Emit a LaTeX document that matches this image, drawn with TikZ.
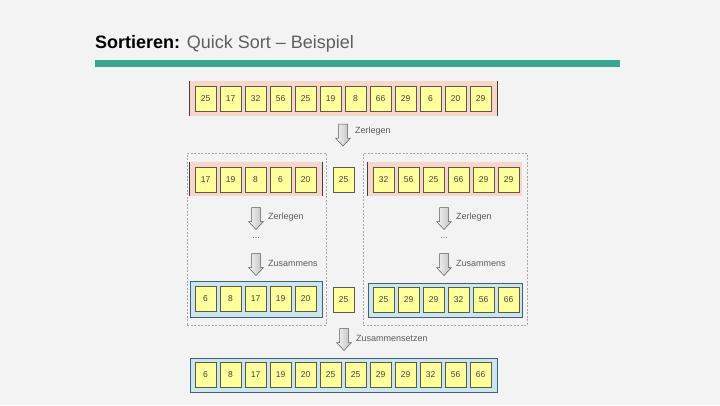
\documentclass[tikz,border=0pt]{standalone}
\usepackage{fontspec}
\setmainfont{Liberation Sans}
\definecolor{bg}{RGB}{243,243,243}
\definecolor{bar}{RGB}{58,166,143}
\definecolor{titlegray}{RGB}{95,95,95}
\definecolor{labgray}{RGB}{90,90,90}
\definecolor{pinkfill}{RGB}{249,214,204}
\definecolor{bluefill}{RGB}{204,230,240}
\definecolor{blueline}{RGB}{70,95,110}
\definecolor{cellfill}{RGB}{255,255,156}
\definecolor{cellline}{RGB}{90,90,75}
\tikzset{
  cell/.style={draw=cellline, line width=0.6pt, fill=cellfill, minimum width=21pt, minimum height=25pt, inner sep=0pt, font=\fontsize{8.5}{10}\selectfont, text=black!75},
  pinkband/.style={fill=pinkfill, inner sep=0pt},
  blueband/.style={fill=bluefill, draw=blueline, line width=0.8pt, inner sep=0pt},
  bandedge/.style={draw=black!75, line width=0.8pt},
  dbox/.style={draw=gray!70, dashed, dash pattern=on 2pt off 1.5pt, line width=0.6pt, inner sep=0pt},
  blockarrow/.pic={\path[draw=gray!70!black, line width=0.5pt, left color=gray!8, right color=gray!50]
     (-4.5,-11) -- (4.5,-11) -- (4.5,3) -- (7.5,3) -- (0,11) -- (-7.5,3) -- (-4.5,3) -- cycle;},
  lab/.style={anchor=west, inner sep=0pt, font=\fontsize{9}{10}\selectfont, text=labgray}
}
\begin{document}
\begin{tikzpicture}[x=1pt,y=-1pt]
\path[fill=bg,use as bounding box] (0,0) rectangle (720,405);
% title
\node[anchor=base west, inner sep=0pt, font=\fontsize{18}{20}\selectfont] (title) at (95,48) {\textbf{Sortieren:} \textcolor{titlegray}{Quick Sort – Beispiel}};
\fill[bar] (95,60) rectangle (620,66.5);
% dashed boxes
\node[dbox, minimum width=139pt, minimum height=172pt] (dl) at (256.5,239) {};
\node[dbox, minimum width=164pt, minimum height=172pt] (dr) at (445,239) {};
% bands
\node[pinkband, minimum width=307pt, minimum height=35pt] (bt) at (343.5,98.5) {};
\draw[bandedge] (bt.north west) -- (bt.south west);
\draw[bandedge] (bt.north east) -- (bt.south east);
\node[pinkband, minimum width=132pt, minimum height=34pt] (bl) at (256,179) {};
\draw[bandedge] (bl.north west) -- (bl.south west);
\draw[bandedge] (bl.north east) -- (bl.south east);
\node[pinkband, minimum width=154pt, minimum height=34pt] (br) at (445,179) {};
\draw[bandedge] (br.north west) -- (br.south west);
\node[blueband, minimum width=132pt, minimum height=36pt] (cl) at (256,299) {};
\node[blueband, minimum width=154pt, minimum height=34pt] (cr) at (445,300) {};
\node[blueband, minimum width=307pt, minimum height=34pt] (cf) at (343.5,375) {};
% cells
\foreach \v [count=\i from 0] in {25,17,32,56,25,19,8,66,29,6,20,29}
  \node[cell] (t\i) at ({205.5+25*\i},98.5) {\v};
\foreach \v [count=\i from 0] in {17,19,8,6,20}
  \node[cell] (l\i) at ({205.5+25*\i},180) {\v};
\foreach \v [count=\i from 0] in {32,56,25,66,29,29}
  \node[cell] (r\i) at ({383.5+25*\i},180) {\v};
\foreach \v [count=\i from 0] in {6,8,17,19,20}
  \node[cell] (m\i) at ({205.5+25*\i},299) {\v};
\foreach \v [count=\i from 0] in {25,29,29,32,56,66}
  \node[cell] (n\i) at ({383.5+25*\i},300) {\v};
\foreach \v [count=\i from 0] in {6,8,17,19,20,25,25,29,29,32,56,66}
  \node[cell] (f\i) at ({205.5+25*\i},375) {\v};
\node[cell] (p1) at (343.5,180) {25};
\node[cell] (p2) at (343.5,300) {25};
% arrows and labels
\pic (a0) at (343,135) {blockarrow};
\node[lab] (z0) at (355,131) {Zerlegen};
\pic (a1) at (256,218.5) {blockarrow};
\node[lab] (z1) at (268,217) {Zerlegen};
\node[lab, anchor=center] (d1) at (256,238) {...};
\pic (a2) at (256,264.5) {blockarrow};
\node[lab] (s1) at (268,263) {Zusammens};
\pic (a3) at (444,218.5) {blockarrow};
\node[lab] (z2) at (456,217) {Zerlegen};
\node[lab, anchor=center] (d2) at (444,238) {...};
\pic (a4) at (444,264.5) {blockarrow};
\node[lab] (s2) at (456,263) {Zusammens};
\pic (a5) at (344,339.5) {blockarrow};
\node[lab] (s3) at (356,338) {Zusammensetzen};
\end{tikzpicture}
\end{document}
